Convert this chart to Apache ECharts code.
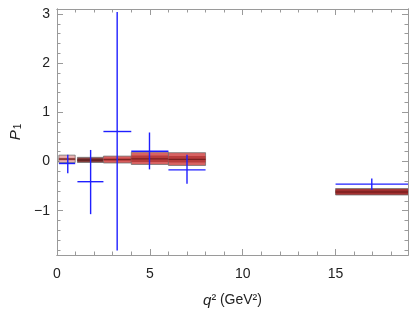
<!DOCTYPE html>
<html>
<head>
<meta charset="utf-8">
<script src="https://cdn.jsdelivr.net/npm/echarts@6/dist/echarts.min.js"></script>
<style>html,body{margin:0;padding:0;background:#fff}#c{width:409px;height:313px}</style>
</head>
<body>
<div id="c"></div>
<script>
// ---- data ----
var binLo = [0.1, 1.1, 2.5, 4.0, 6.0, 15.0];
var binHi = [0.98, 2.5, 4.0, 6.0, 8.0, 19.0];
// SM prediction bands
var smOuterLo = [-0.02, -0.02, -0.03, -0.06, -0.08, -0.68];
var smOuterHi = [0.13, 0.085, 0.11, 0.19, 0.18, -0.55];
var smInnerLo = [0.025, 0.0, 0.01, -0.01, -0.02, -0.65];
var smInnerHi = [0.075, 0.06, 0.07, 0.12, 0.11, -0.58];
var smCentral = [0.05, 0.03, 0.04, 0.055, 0.045, -0.62];
// measurements
var expX = [0.58, 1.81, 3.24, 4.98, 7.0, 16.95];
var expY = [-0.04, -0.41, 0.61, 0.21, -0.17, -0.46];
var expYLo = [-0.24, -1.07, -1.81, -0.16, -0.45, -0.58];
var expYHi = [0.14, 0.235, 3.04, 0.59, 0.14, -0.345];
// ticks
var xMajor = [0, 5, 10, 15];
var yMajor = [-1, 0, 1, 2, 3];

// ---- styles (per band) ----
var bandStyle = [
  {outer:'#eab0b0', inner:'#c87070', line:'#6e2020'},
  {outer:'#8e4646', inner:'#7a3434', line:'#5a1c1c'},
  {outer:'#d85c5c', inner:'#c44848', line:'#802424'},
  {outer:'#d86262', inner:'#b83c3c', line:'#7a2020'},
  {outer:'#d86262', inner:'#b83c3c', line:'#7a2020'},
  {outer:'#a83434', inner:'#a02e2e', line:'#6a1818'}
];

var xMinor = [], yMinor = [];
for (var i = 0; i <= 19; i++) if (i % 5) xMinor.push(i);
for (var j = -9; j <= 15; j++) if (j % 5) yMinor.push(j / 5);

var bandData = binLo.map(function (v, k) {
  return [binLo[k], binHi[k], smOuterLo[k], smOuterHi[k], smInnerLo[k], smInnerHi[k], smCentral[k]];
});
var expData = expX.map(function (v, k) {
  return [expX[k], expY[k], binLo[k], binHi[k], expYLo[k], expYHi[k]];
});

var FONT = 'Liberation Sans, Arial, sans-serif';
var frameColor = '#9a9a9a';
var XMIN = 0, XMAX = 18.9, YMIN = -1.9, YMAX = 3.1;

function xAx(pos, major, showLabel) {
  return {
    type: 'value', min: XMIN, max: XMAX, position: pos,
    axisLine: {show: true, onZero: false, lineStyle: {color: frameColor, width: 1}},
    axisTick: {show: true, inside: true, length: major ? 6 : 3.5, customValues: major ? xMajor : xMinor,
               lineStyle: {color: frameColor}},
    axisLabel: {show: showLabel, customValues: xMajor, fontSize: 14, color: '#222', fontFamily: FONT, margin: 12},
    splitLine: {show: false}
  };
}
function yAx(pos, major, showLabel) {
  return {
    type: 'value', min: YMIN, max: YMAX, position: pos,
    axisLine: {show: true, onZero: false, lineStyle: {color: frameColor, width: 1}},
    axisTick: {show: true, inside: true, length: major ? 6 : 3.5, customValues: major ? yMajor : yMinor,
               lineStyle: {color: frameColor}},
    axisLabel: {show: showLabel, customValues: yMajor, fontSize: 14, color: '#222', fontFamily: FONT, margin: 7,
                formatter: function (v) { return v < 0 ? '\u2212' + Math.abs(v) : String(v); }},
    splitLine: {show: false}
  };
}

var xa = [xAx('bottom', true, true), xAx('bottom', false, false), xAx('top', true, false), xAx('top', false, false)];
xa[0].name = '{i|q}{n|\u00b2 (GeV\u00b2)}';
xa[0].nameLocation = 'middle';
xa[0].nameGap = 38;
xa[0].nameTextStyle = {fontFamily: FONT, fontSize: 14, color: '#222',
  rich: {i: {fontStyle: 'italic', fontFamily: FONT, fontSize: 15, color: '#222'},
         n: {fontFamily: FONT, fontSize: 14, color: '#222'}}};

var ya = [yAx('left', true, true), yAx('left', false, false), yAx('right', true, false), yAx('right', false, false)];
ya[0].name = '{i|P}{s|1}';
ya[0].nameLocation = 'middle';
ya[0].nameGap = 34;
ya[0].nameRotate = 90;
ya[0].nameTextStyle = {fontFamily: FONT, fontSize: 14, color: '#222',
  rich: {i: {fontStyle: 'italic', fontFamily: FONT, fontSize: 15, color: '#222', verticalAlign: 'bottom', lineHeight: 18},
         s: {fontFamily: FONT, fontSize: 10, color: '#222', verticalAlign: 'bottom', lineHeight: 10, padding: [0, 0, 0, 1]}}};

var chart = echarts.init(document.getElementById('c'), null, {renderer: 'canvas'});
chart.setOption({
  animation: false,
  backgroundColor: '#fff',
  grid: {left: 53, right: 1, top: 9, bottom: 57, containLabel: false},
  xAxis: xa,
  yAxis: ya,
  series: [
    {
      type: 'custom', xAxisIndex: 0, yAxisIndex: 0, clip: true,
      data: bandData,
      encode: {x: [0, 1], y: [2, 3]},
      renderItem: function (params, api) {
        var k = params.dataIndex;
        var st = bandStyle[k];
        var a = api.coord([api.value(0), api.value(3)]);
        var b = api.coord([api.value(1), api.value(2)]);
        var ia = api.coord([api.value(0), api.value(5)]);
        var ib = api.coord([api.value(1), api.value(4)]);
        var c = api.coord([api.value(0), api.value(6)]);
        var c2 = api.coord([api.value(1), api.value(6)]);
        return {
          type: 'group',
          children: [
            {type: 'rect', shape: {x: a[0], y: a[1], width: b[0] - a[0], height: b[1] - a[1]},
             style: {fill: st.outer, stroke: 'rgba(110,110,110,0.75)', lineWidth: 1}},
            {type: 'rect', shape: {x: ia[0], y: ia[1], width: ib[0] - ia[0], height: ib[1] - ia[1]},
             style: {fill: st.inner, stroke: null}},
            {type: 'line', shape: {x1: c[0], y1: c[1], x2: c2[0], y2: c2[1]},
             style: {stroke: st.line, lineWidth: 1.2}}
          ]
        };
      }
    },
    {
      type: 'custom', xAxisIndex: 0, yAxisIndex: 0, clip: true,
      data: expData,
      encode: {x: [0, 2, 3], y: [1, 4, 5]},
      renderItem: function (params, api) {
        var p = api.coord([api.value(0), api.value(1)]);
        var l = api.coord([api.value(2), api.value(1)]);
        var r = api.coord([api.value(3), api.value(1)]);
        var lo = api.coord([api.value(0), api.value(4)]);
        var hi = api.coord([api.value(0), api.value(5)]);
        var s = {stroke: '#1f1fff', lineWidth: 1.4};
        return {
          type: 'group',
          children: [
            {type: 'line', shape: {x1: l[0], y1: l[1], x2: r[0], y2: r[1]}, style: s},
            {type: 'line', shape: {x1: p[0], y1: lo[1], x2: p[0], y2: hi[1]}, style: s}
          ]
        };
      }
    }
  ]
});
</script>
</body>
</html>
